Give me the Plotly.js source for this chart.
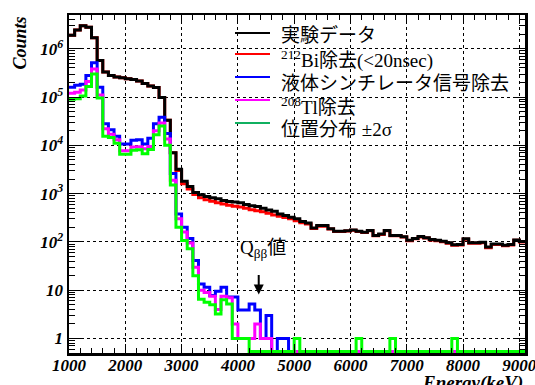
<!DOCTYPE html>
<html>
<head>
<meta charset="utf-8">
<script src="https://cdn.plot.ly/plotly-3.0.1.min.js"></script>
<style>html,body{margin:0;padding:0;background:#fff}#chart{width:535px;height:385px}</style>
</head>
<body>
<div id="chart"></div>
<script>
// ---- binning (100 keV bins from 1000 keV) ----
const BIN_START = 1000;
const BIN_WIDTH = 100;

// ---- series values (counts per bin) ----
const dataCounts = [
  1.9e6, 2.45e6, 3.0e6, 2.8e6, 1.68e6, 5.7e5, 3.3e5, 2.8e5, 2.6e5, 2.5e5,
  2.4e5, 2.3e5, 2.15e5, 1.9e5, 1.7e5, 1.57e5, 9.8e4, 3.3e4, 7.0e3, 3.2e3,
  1.8e3, 1.4e3, 1.05e3, 950, 870, 820, 780, 720, 690, 670,
  645, 595, 560, 540, 500, 460, 430, 380, 350, 325,
  300, 265, 245, 195, 218, 218, 187, 166, 166, 170,
  177, 166, 158, 172, 136, 145, 172, 136, 136, 128,
  108, 118, 129, 122, 112, 108, 103, 96, 87, 88,
  116, 96, 96, 98, 78, 90, 90, 85, 88, 110,
  102
];
const bi212Cut = [
  1.9e6, 2.45e6, 3.0e6, 2.8e6, 1.68e6, 5.7e5, 3.3e5, 2.8e5, 2.6e5, 2.5e5,
  2.4e5, 2.3e5, 2.15e5, 1.9e5, 1.7e5, 1.57e5, 9.8e4, 3.3e4, 7.0e3, 3.0e3,
  1.6e3, 1.25e3, 960, 820, 745, 695, 650, 610, 576, 550,
  525, 500, 462, 440, 420, 390, 360, 340, 320, 300,
  275, 250, 235, 190, 210, 212, 185, 164, 164, 168,
  175, 164, 156, 170, 134, 143, 170, 134, 134, 126,
  106, 116, 127, 120, 110, 106, 101, 94, 85, 86,
  114, 94, 94, 96, 76, 88, 88, 83, 86, 108,
  100
];
const lsVeto = [
  1.6e5, 1.75e5, 1.85e5, 2.8e5, 5.1e5, 1.6e5, 2.8e4, 2.1e4, 1.55e4, 1.07e4,
  1.07e4, 1.27e4, 1.3e4, 1.07e4, 1.4e4, 2.8e4, 3.8e4, 1.75e4, 2.6e3, 380,
  200, 117, 41, 13.5, 11.5, 7.8, 9.5, 11.5, 7.2, 7.2,
  3.9, 3.9, 5.2, 3.9, 1, 3, 0, 1, 1, 0,
  0, 0, 0, 0, 0, 0, 0, 0, 0, 0,
  0, 0, 0, 0, 0, 0, 0, 0, 0, 0,
  0, 0, 0, 0, 0, 0, 0, 0, 0, 0,
  0, 0, 0, 0, 0, 0, 0, 0, 0, 0,
  0
];
const tl208Cut = [
  1.2e5, 1.25e5, 1.4e5, 2.1e5, 3.8e5, 1.1e5, 2.2e4, 1.7e4, 1.3e4, 7.7e3,
  7.7e3, 9.2e3, 9.3e3, 8.5e3, 9.5e3, 2.0e4, 2.9e4, 1.35e4, 1.9e3, 300,
  160, 95, 30, 10, 9, 7.5, 4, 7.5, 7, 2,
  1, 1, 1, 2, 1, 1, 0, 0, 0, 0,
  0, 0, 0, 0, 0, 0, 0, 0, 0, 0,
  0, 0, 0, 0, 0, 0, 0, 0, 0, 0,
  0, 0, 0, 0, 0, 0, 0, 0, 0, 0,
  0, 0, 0, 0, 0, 0, 0, 0, 0, 0,
  0
];
const positionCut = [
  9.0e4, 9.2e4, 1.05e5, 1.65e5, 3.0e5, 9.5e4, 1.55e4, 1.45e4, 1.1e4, 6.5e3,
  6.5e3, 7.9e3, 8.1e3, 6.7e3, 8.2e3, 1.65e4, 2.5e4, 1.0e4, 1.5e3, 200,
  107, 72, 20, 6.5, 5.6, 5.0, 3.2, 6.3, 5.2, 1,
  1, 1, 0, 0, 0, 0, 0, 0, 0, 0,
  1, 0, 0, 0, 0, 0, 0, 0, 0, 0,
  0, 1, 0, 0, 0, 0, 0, 1, 0, 0,
  0, 0, 0, 0, 0, 0, 0, 0, 1, 0,
  0, 0, 0, 0, 0, 0, 0, 0, 0, 0,
  0
];

// ---- labels ----
const legendLabels = [
  '実験データ',
  '<sup>212</sup>Bi除去(&lt;20nsec)',
  '液体シンチレータ信号除去',
  '<sup>208</sup>Tl除去',
  '位置分布 ±2σ'
];
const xTickValues = [1000, 2000, 3000, 4000, 5000, 6000, 7000, 8000, 9000];
const xTickLabels = ['1000', '2000', '3000', '4000', '5000', '6000', '7000', '8000', '9000'];
const yTickValues = [1, 10, 100, 1e3, 1e4, 1e5, 1e6];
const yTickLabels = ['1', '10', '10<sup>2</sup>', '10<sup>3</sup>', '10<sup>4</sup>', '10<sup>5</sup>', '10<sup>6</sup>'];
const xTitle = 'Energy(keV)';
const yTitle = 'Counts';
const qbbLabel = 'Q<sub>ββ</sub>値';
const Q_BB = 4370;

// ---- styles ----
const W = 535, H = 385, ML = 69, MR = 10, MT = 15, MB = 32;
const PW = W - ML - MR, PH = H - MT - MB;
const Y_MIN = 0.5, Y_MAX = 5e6, ZERO_FLOOR = 0.54;
const lineColors = ['#000000', '#ff0000', '#0000ff', '#ff00ff', '#00ff00'];
const legendColors = ['#000000', '#ff0000', '#0000ff', '#ff00ff', '#10b060'];
const serif = 'Liberation Serif';
const jp = 'Liberation Serif, Noto Sans CJK JP';

function stepTrace(vals, color, width) {
  const x = [], y = [];
  vals.forEach((v, i) => { x.push(BIN_START + i * BIN_WIDTH); y.push(v > 0 ? v : ZERO_FLOOR); });
  x.push(BIN_START + vals.length * BIN_WIDTH); y.push(y[y.length - 1]);
  return { type: 'scatter', mode: 'lines', x, y, line: { shape: 'hv', color, width }, hoverinfo: 'skip', showlegend: false };
}

const traces = [
  stepTrace(bi212Cut, lineColors[1], 3),
  stepTrace(dataCounts, lineColors[0], 3),
  stepTrace(lsVeto, lineColors[2], 3),
  stepTrace(tl208Cut, lineColors[3], 3),
  stepTrace(positionCut, lineColors[4], 3)
];

const px = p => (p - ML) / PW;
const py = p => (H - MB - p) / PH;

const shapes = [];
const annotations = [];
const rowLineY = [33, 54, 77, 100, 123];
const rowTextY = [36, 59, 83, 106, 129];
legendLabels.forEach((t, i) => {
  shapes.push({ type: 'line', xref: 'paper', yref: 'paper', x0: px(235), x1: px(270), y0: py(rowLineY[i]), y1: py(rowLineY[i]), line: { color: legendColors[i], width: 2 } });
  annotations.push({ xref: 'paper', yref: 'paper', x: px(279), y: py(rowTextY[i]), xanchor: 'left', yanchor: 'middle', text: t, showarrow: false, font: { family: jp, size: 19, color: '#000' } });
});

annotations.push({ xref: 'paper', yref: 'paper', x: px(19), y: 1, xanchor: 'center', yanchor: 'top', textangle: -90, text: yTitle, showarrow: false, font: { family: serif, size: 18, weight: 'bold', style: 'italic', color: '#000' } });
annotations.push({ xref: 'paper', yref: 'paper', x: 1, y: 0, xanchor: 'right', yanchor: 'top', yshift: -17, text: xTitle, showarrow: false, font: { family: serif, size: 19, weight: 'bold', style: 'italic', color: '#000' } });
annotations.push({ xref: 'x', yref: 'y', x: Q_BB, y: 0.91, ax: 0, ay: -28, text: ' ', showarrow: true, arrowhead: 2, arrowsize: 1, arrowwidth: 2, arrowcolor: '#000' });
annotations.push({ xref: 'x', yref: 'y', x: Q_BB, xshift: 4, y: 1.86, text: qbbLabel, showarrow: false, font: { family: jp, size: 19, color: '#000' } });

const axisCommon = {
  showline: true, linecolor: '#000', linewidth: 2.5, mirror: 'ticks',
  ticks: 'inside', tickcolor: '#000', tickwidth: 1,
  showgrid: true, gridcolor: '#000', gridwidth: 1, griddash: 'dot',
  zeroline: false, ticklabeloverflow: 'allow',
  tickfont: { family: serif, size: 17, weight: 'bold', style: 'italic', color: '#000' }
};

const layout = {
  width: W, height: H,
  margin: { l: ML, r: MR, t: MT, b: MB, pad: 0 },
  paper_bgcolor: '#fff', plot_bgcolor: '#fff',
  showlegend: false,
  font: { family: serif, color: '#000' },
  xaxis: Object.assign({}, axisCommon, {
    range: [BIN_START, BIN_START + dataCounts.length * BIN_WIDTH],
    tickmode: 'array', tickvals: xTickValues, ticktext: xTickLabels, ticklen: 9,
    ticklabelstandoff: -5,
    minor: { dtick: 200, ticks: 'inside', ticklen: 5, tickcolor: '#000', showgrid: false }
  }),
  yaxis: Object.assign({}, axisCommon, {
    type: 'log', range: [Math.log10(Y_MIN), Math.log10(Y_MAX)],
    tickmode: 'array', tickvals: yTickValues, ticktext: yTickLabels, ticklen: 12,
    minor: { dtick: 'D1', ticks: 'inside', ticklen: 6, tickcolor: '#000', showgrid: false }
  }),
  shapes, annotations
};

Plotly.newPlot('chart', traces, layout, { staticPlot: true, displayModeBar: false });
</script>
</body>
</html>
